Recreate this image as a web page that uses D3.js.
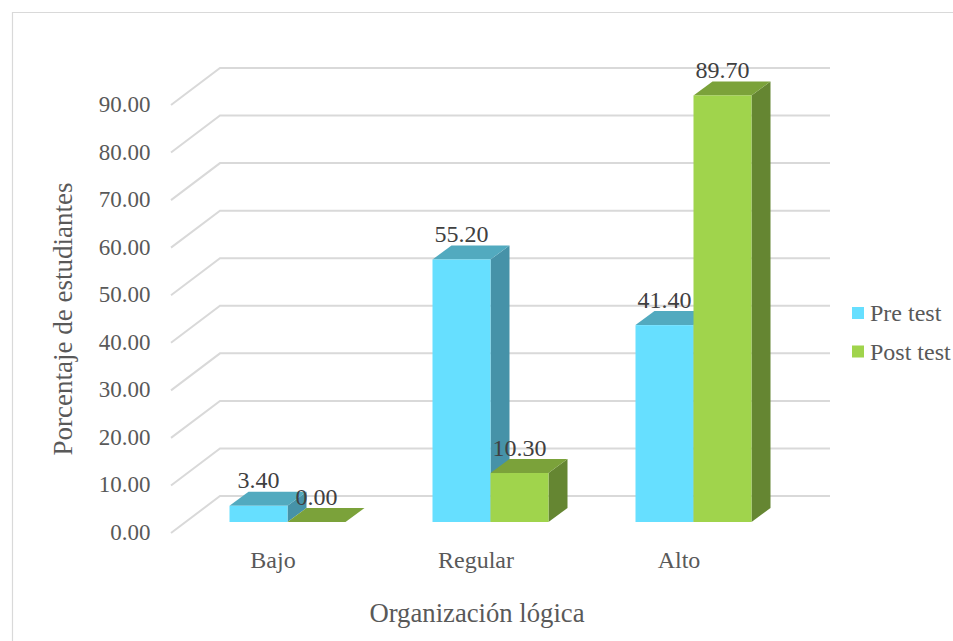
<!DOCTYPE html>
<html><head><meta charset="utf-8">
<style>html,body{margin:0;padding:0;background:#fff}svg{display:block}text{font-family:"Liberation Serif",serif}</style>
<script src="https://cdn.jsdelivr.net/npm/d3@7/dist/d3.min.js"></script></head>
<body><div id="c"></div>
<script>
const categories=["Bajo","Regular","Alto"];
const seriesNames=["Pre test","Post test"];
const preTest=[3.40,55.20,41.40];
const postTest=[0.00,10.30,89.70];
const yTicks=[0,10,20,30,40,50,60,70,80,90];
const xTitle="Organización lógica";
const yTitle="Porcentaje de estudiantes";
const colors=[{front:"#66DFFF",top:"#52AABF",side:"#4692A8"},{front:"#A0D44C",top:"#7BA23A",side:"#658632"}];

const W=953,H=641;
const svg=d3.select("#c").append("svg").attr("width",W).attr("height",H);
svg.append("path").attr("d",`M12.5,${H}V12.5H${W}`).attr("fill","none").attr("stroke","#d9d9d9").attr("stroke-width",1.2);

const y=d3.scaleLinear().domain([0,90]).range([533,105]);
const x=d3.scaleBand().domain(categories).range([171.5,780.5]).paddingInner(0).paddingOuter(0);
const inner=d3.scaleBand().domain([0,1]).range([0,116]);
const backDx=49,backDy=-37,offDx=14.5,offDy=-11,depthDx=19,depthDy=-14,rightEnd=830;

const grid=svg.append("g");
yTicks.forEach(t=>{
  grid.append("path").attr("d",`M${171},${y(t)}L${171+backDx},${y(t)+backDy}H${rightEnd}`)
    .attr("fill","none").attr("stroke","#d9d9d9").attr("stroke-width",2);
});

const yAxis=d3.axisLeft(y).tickValues(yTicks).tickFormat(d3.format(".2f")).tickSize(0).tickPadding(0);
const ga=svg.append("g").attr("transform","translate(150.5,6)").call(yAxis);
ga.select(".domain").remove();
ga.selectAll("text").attr("fill","#595959").style("font-size","23px").style("font-family","'Liberation Serif',serif").attr("dy","0.02em");

const xAxis=d3.axisBottom(x).tickSize(0).tickPadding(0);
const gx=svg.append("g").attr("transform","translate(0,561)").call(xAxis);
gx.select(".domain").remove();
gx.selectAll("text").attr("fill","#595959").attr("dy","0.3em").style("font-size","24px").style("font-family","'Liberation Serif',serif");

const series=[preTest,postTest];
const labels=[];
categories.forEach((c,i)=>{
  const gapLeft=x(c)+(x.bandwidth()-116)/2+offDx;
  series.forEach((vals,s)=>{
    const v=vals[i];
    const x0=gapLeft+inner(s),w=inner.bandwidth(),y1=y(0)+offDy,y0=y(v)+offDy;
    const col=colors[s];
    const g=svg.append("g");
    g.append("path").attr("d",`M${x0+w},${y0}l${depthDx},${depthDy}V${y1+depthDy}l${-depthDx},${-depthDy}Z`).attr("fill",col.side);
    g.append("path").attr("d",`M${x0},${y0}l${depthDx},${depthDy}h${w}l${-depthDx},${-depthDy}Z`).attr("fill",col.top);
    g.append("rect").attr("x",x0).attr("y",y0).attr("width",w).attr("height",y1-y0).attr("fill",col.front);
    labels.push({x:x0+w/2,y:y0-17.5,t:d3.format(".2f")(v)});
  });
});
svg.append("g").selectAll("text").data(labels).join("text")
  .attr("x",d=>d.x).attr("y",d=>d.y).attr("text-anchor","middle")
  .attr("fill","#404040").style("font-size","24px").text(d=>d.t);

const lg=svg.append("g");
seriesNames.forEach((n,i)=>{
  const ly=313+i*38.5;
  lg.append("rect").attr("x",852).attr("y",ly-6).attr("width",12).attr("height",12).attr("fill",colors[i].front);
  lg.append("text").attr("x",870).attr("y",ly+8).attr("fill","#595959").style("font-size","24px").text(n);
});

svg.append("text").attr("x",477).attr("y",622).attr("text-anchor","middle").attr("fill","#595959").style("font-size","26.7px").text(xTitle);
svg.append("text").attr("transform","translate(72,319) rotate(-90)").attr("text-anchor","middle").attr("fill","#595959").style("font-size","27px").text(yTitle);
</script></body></html>
